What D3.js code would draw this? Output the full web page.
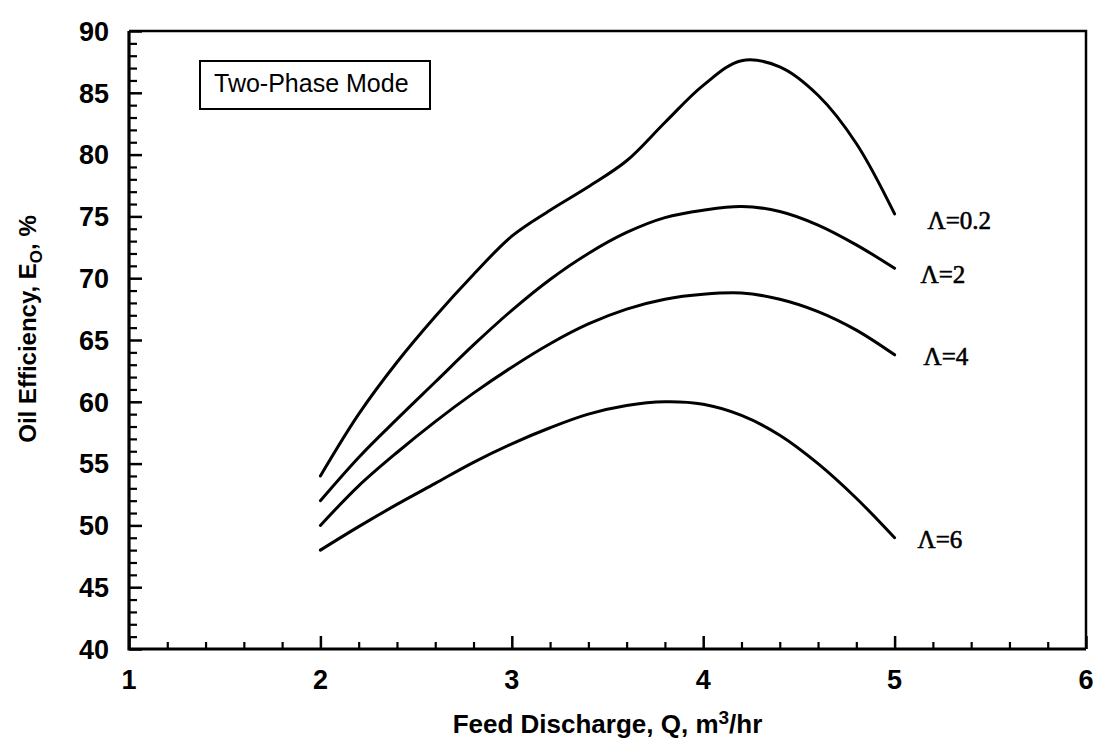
<!DOCTYPE html>
<html>
<head>
<meta charset="utf-8">
<script src="https://cdn.jsdelivr.net/npm/d3@7/dist/d3.min.js"></script>
<style>
  html, body { margin: 0; padding: 0; background: #fff; }
  svg { display: block; }
</style>
</head>
<body>
<svg id="chart" width="1095" height="741"></svg>
<script>
// Feed discharge Q (m^3/hr) at which each curve is sampled
const discharge = [2.0, 2.2, 2.4, 2.6, 2.8, 3.0, 3.2, 3.4, 3.6, 3.8, 4.0, 4.2, 4.4, 4.6, 4.8, 5.0];

// Oil efficiency E_O (%) for each Λ
const effLambda02 = [54.0, 59.0, 63.2, 66.9, 70.3, 73.4, 75.5, 77.4, 79.5, 82.6, 85.6, 87.6, 87.1, 84.8, 80.9, 75.2];
const effLambda2  = [52.0, 55.5, 58.6, 61.6, 64.6, 67.4, 69.9, 72.0, 73.7, 74.9, 75.5, 75.8, 75.4, 74.3, 72.7, 70.8];
const effLambda4  = [50.0, 53.2, 55.9, 58.4, 60.7, 62.8, 64.7, 66.3, 67.5, 68.3, 68.7, 68.8, 68.3, 67.3, 65.8, 63.8];
const effLambda6  = [48.0, 49.9, 51.7, 53.4, 55.1, 56.6, 57.9, 59.0, 59.7, 60.0, 59.8, 58.9, 57.3, 55.0, 52.2, 49.0];

const seriesNames = ["\u039B=0.2", "\u039B=2", "\u039B=4", "\u039B=6"];
const seriesValues = [effLambda02, effLambda2, effLambda4, effLambda6];

// Axis ticks
const xMajorTicks = [1, 2, 3, 4, 5, 6];
const yMajorTicks = [40, 45, 50, 55, 60, 65, 70, 75, 80, 85, 90];

const legendText = "Two-Phase Mode";

// ---- layout ----
const plot = { left: 129, right: 1086, top: 31, bottom: 649 };
const sans = "'Liberation Sans', Arial, Helvetica, sans-serif";
const serif = "'Liberation Serif', 'Times New Roman', Times, serif";

const svg = d3.select("#chart");

const x = d3.scaleLinear().domain([1, 6]).range([plot.left, plot.right]);
const y = d3.scaleLinear().domain([40, 90]).range([plot.bottom, plot.top]);

// frame: top and right edges
svg.append("path")
  .attr("d", `M${plot.left},${plot.top}H${plot.right}V${plot.bottom}`)
  .attr("fill", "none").attr("stroke", "#000").attr("stroke-width", 2.5);

// bottom axis, ticks pointing inward
const xMinor = d3.range(1, 6.001, 0.2).filter(v => Math.abs(v - Math.round(v)) > 1e-6);
const gx = svg.append("g").attr("transform", `translate(0,${plot.bottom})`);
gx.call(d3.axisTop(x).tickValues(xMinor).tickSize(7).tickFormat(""));
gx.selectAll(".tick line").attr("stroke-width", 2.2);
const gxMaj = svg.append("g").attr("transform", `translate(0,${plot.bottom})`);
gxMaj.call(d3.axisTop(x).tickValues(xMajorTicks).tickSize(13).tickFormat(""));
gxMaj.selectAll(".tick line").attr("stroke-width", 2.5);
svg.selectAll("g .domain").remove();
svg.append("g").selectAll("text").data(xMajorTicks).join("text")
  .attr("x", d => x(d)).attr("y", plot.bottom + 40)
  .attr("text-anchor", "middle")
  .attr("font-family", sans).attr("font-weight", "bold").attr("font-size", 27)
  .text(d => d);

// left axis, ticks pointing inward
const yMinor = d3.range(40, 90.001, 1).filter(v => v % 5 !== 0);
const gy = svg.append("g").attr("transform", `translate(${plot.left},0)`);
gy.call(d3.axisRight(y).tickValues(yMinor).tickSize(8).tickFormat(""));
gy.selectAll(".tick line").attr("stroke-width", 2.2);
const gyMaj = svg.append("g").attr("transform", `translate(${plot.left},0)`);
gyMaj.call(d3.axisRight(y).tickValues(yMajorTicks).tickSize(13).tickFormat(""));
gyMaj.selectAll(".tick line").attr("stroke-width", 2.5);
svg.selectAll("g .domain").remove();
svg.append("g").selectAll("text").data(yMajorTicks).join("text")
  .attr("x", plot.left - 20).attr("y", d => y(d)).attr("dy", "0.36em")
  .attr("text-anchor", "end")
  .attr("font-family", sans).attr("font-weight", "bold").attr("font-size", 27)
  .text(d => d);

// axis lines (left and bottom)
svg.append("path")
  .attr("d", `M${plot.left},${plot.top}V${plot.bottom}H${plot.right}`)
  .attr("fill", "none").attr("stroke", "#000").attr("stroke-width", 3.2);

// axis titles
const xt = svg.append("text")
  .attr("x", (plot.left + plot.right) / 2).attr("y", 733)
  .attr("text-anchor", "middle")
  .attr("font-family", sans).attr("font-weight", "bold").attr("font-size", 26);
xt.append("tspan").text("Feed Discharge, Q, m");
xt.append("tspan").attr("dy", -9).attr("font-size", 19).text("3");
xt.append("tspan").attr("dy", 9).text("/hr");

const yt = svg.append("text")
  .attr("transform", `translate(36,329) rotate(-90)`)
  .attr("text-anchor", "middle")
  .attr("font-family", sans).attr("font-weight", "bold").attr("font-size", 24);
yt.append("tspan").text("Oil Efficiency, E");
yt.append("tspan").attr("dy", 6).attr("font-size", 17).text("O");
yt.append("tspan").attr("dy", -6).text(", %");

// legend box
svg.append("rect")
  .attr("x", 200).attr("y", 61).attr("width", 230).attr("height", 48)
  .attr("fill", "none").attr("stroke", "#000").attr("stroke-width", 2);
svg.append("text")
  .attr("x", 214).attr("y", 92)
  .attr("font-family", sans).attr("font-size", 25)
  .text(legendText);

// curves
const line = d3.line()
  .x((d, i) => x(discharge[i]))
  .y(d => y(d))
  .curve(d3.curveCatmullRom.alpha(0.5));

svg.append("g").selectAll("path").data(seriesValues).join("path")
  .attr("d", d => line(d))
  .attr("fill", "none").attr("stroke", "#000").attr("stroke-width", 3)
  .attr("stroke-linecap", "round");

// curve labels placed just past each curve's last point
const labelOffsets = [[33, 15], [26, 15], [29, 10], [23, 10]];
svg.append("g").selectAll("text").data(seriesValues).join("text")
  .attr("x", (d, i) => x(discharge[discharge.length - 1]) + labelOffsets[i][0])
  .attr("y", (d, i) => y(d[d.length - 1]) + labelOffsets[i][1])
  .attr("font-family", serif).attr("font-size", 25)
  .attr("stroke", "#000").attr("stroke-width", 0.6)
  .text((d, i) => seriesNames[i]);
</script>
</body>
</html>
